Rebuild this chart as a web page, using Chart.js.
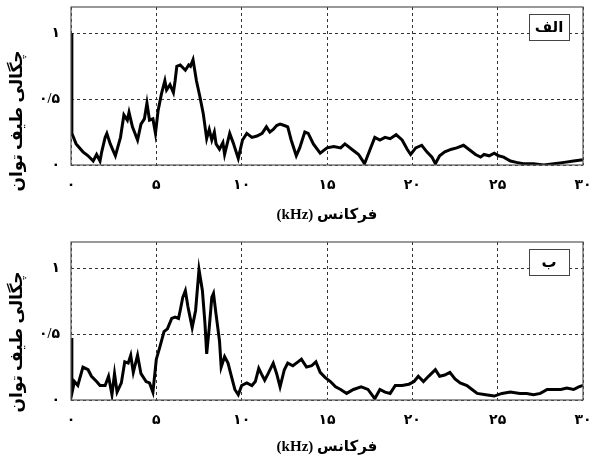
<!DOCTYPE html>
<html>
<head>
<meta charset="utf-8">
<script src="https://cdn.jsdelivr.net/npm/chart.js@4/dist/chart.umd.min.js"></script>
<style>
  body { margin: 0; background: #fff; }
  .box { position: relative; width: 590px; height: 232px; }
  canvas { direction: rtl; }
</style>
</head>
<body>
<div class="box"><canvas id="chartA"></canvas></div>
<div class="box"><canvas id="chartB"></canvas></div>
<script>
// فرکانس (kHz) و چگالی طیف توان - نمودار الف
const freqA = [0, 0.05, 0.3, 0.7, 1.0, 1.3, 1.5, 1.7, 1.8, 2.0, 2.1, 2.3, 2.6, 2.9, 3.1, 3.3, 3.4, 3.6, 3.9, 4.1, 4.3, 4.45, 4.6, 4.8, 4.95,
  5.1, 5.3, 5.5, 5.6, 5.8, 6.0, 6.1, 6.2, 6.4, 6.7, 6.9, 7.0, 7.15, 7.35, 7.55, 7.75, 7.95, 8.1, 8.25, 8.4, 8.5, 8.7, 8.9, 9.0,
  9.3, 9.5, 9.8, 10.05, 10.3, 10.6, 10.9, 11.2, 11.45, 11.65, 11.85, 12.05, 12.25, 12.5, 12.7, 12.9, 13.2, 13.4, 13.7, 13.9,
  14.2, 14.6, 15.0, 15.4, 15.8, 16.05, 16.45, 16.85, 17.2, 17.5, 17.8, 18.1, 18.4, 18.7, 19.05, 19.4, 19.7, 19.9, 20.2,
  20.55, 20.85, 21.15, 21.35, 21.6, 21.9, 22.3, 22.6, 23.0, 23.4, 23.7, 24.0, 24.2, 24.5, 24.8, 25.05, 25.35, 25.75, 26.1,
  26.5, 27.1, 27.7, 28.3, 28.9, 29.45, 30];
const powerA = [1.0, 0.24, 0.16, 0.10, 0.07, 0.03, 0.08, 0.03, 0.10, 0.21, 0.24, 0.16, 0.07, 0.21, 0.38, 0.34, 0.40, 0.29, 0.19, 0.31, 0.35, 0.47, 0.34, 0.35, 0.24,
  0.41, 0.54, 0.64, 0.57, 0.61, 0.55, 0.64, 0.75, 0.76, 0.72, 0.76, 0.75, 0.80, 0.64, 0.52, 0.39, 0.20, 0.27, 0.19, 0.25, 0.16, 0.12, 0.17, 0.08,
  0.24, 0.17, 0.05, 0.19, 0.24, 0.21, 0.22, 0.24, 0.29, 0.25, 0.27, 0.30, 0.31, 0.30, 0.29, 0.19, 0.07, 0.13, 0.25, 0.24,
  0.16, 0.09, 0.13, 0.14, 0.13, 0.16, 0.12, 0.08, 0.01, 0.11, 0.21, 0.19, 0.21, 0.20, 0.23, 0.19, 0.12, 0.08, 0.13,
  0.15, 0.10, 0.06, 0.01, 0.07, 0.10, 0.12, 0.13, 0.15, 0.11, 0.08, 0.06, 0.08, 0.07, 0.09, 0.07, 0.06, 0.03, 0.02,
  0.01, 0.01, 0.00, 0.01, 0.02, 0.03, 0.04];

// نمودار ب
const freqB = [0, 0.05, 0.2, 0.4, 0.7, 1.0, 1.2, 1.5, 1.7, 2.0, 2.2, 2.4, 2.55, 2.7, 2.95, 3.15, 3.35, 3.5, 3.65, 3.9, 4.1, 4.4, 4.6, 4.8,
  5.0, 5.2, 5.45, 5.65, 5.9, 6.1, 6.3, 6.4, 6.55, 6.7, 6.85, 7.1, 7.3, 7.5, 7.7, 7.85, 7.95, 8.1, 8.25, 8.35, 8.5, 8.7, 8.8,
  9.0, 9.2, 9.4, 9.6, 9.8, 10.0, 10.3, 10.6, 10.8, 11.0, 11.15, 11.35, 11.55, 11.85, 12.05, 12.25, 12.5, 12.7, 13.0, 13.3,
  13.5, 13.8, 14.1, 14.35, 14.6, 14.9, 15.2, 15.5, 15.8, 16.15, 16.55, 17.0, 17.4, 17.8, 18.1, 18.4, 18.7, 19.0, 19.4,
  19.8, 20.1, 20.35, 20.65, 20.95, 21.35, 21.6, 21.9, 22.2, 22.5, 22.8, 23.2, 23.5, 23.8, 24.3, 24.8, 25.25, 25.75, 26.3,
  26.7, 27.1, 27.5, 27.9, 28.3, 28.7, 29.05, 29.45, 29.75, 30];
const powerB = [0.47, 0.05, 0.14, 0.11, 0.25, 0.23, 0.18, 0.14, 0.11, 0.11, 0.18, 0.04, 0.20, 0.06, 0.13, 0.29, 0.28, 0.34, 0.21, 0.34, 0.20, 0.14, 0.13, 0.06,
  0.31, 0.40, 0.52, 0.54, 0.62, 0.63, 0.62, 0.68, 0.78, 0.83, 0.71, 0.55, 0.68, 0.99, 0.83, 0.58, 0.35, 0.55, 0.78, 0.81, 0.65, 0.45, 0.25,
  0.33, 0.28, 0.18, 0.08, 0.04, 0.11, 0.13, 0.11, 0.14, 0.24, 0.20, 0.15, 0.20, 0.28, 0.20, 0.10, 0.23, 0.28, 0.26, 0.29,
  0.31, 0.25, 0.26, 0.29, 0.21, 0.17, 0.14, 0.10, 0.08, 0.05, 0.08, 0.10, 0.08, 0.01, 0.08, 0.06, 0.05, 0.11, 0.11,
  0.12, 0.14, 0.18, 0.14, 0.18, 0.23, 0.18, 0.19, 0.21, 0.16, 0.13, 0.11, 0.08, 0.05, 0.04, 0.03, 0.05, 0.06, 0.05,
  0.05, 0.04, 0.05, 0.08, 0.08, 0.08, 0.09, 0.08, 0.10, 0.11];

const xTicks = [0, 5, 10, 15, 20, 25, 30];
const xTickLabels = ['۰', '۵', '۱۰', '۱۵', '۲۰', '۲۵', '۳۰'];
const yTicks = [0, 0.5, 1];
const yTickLabels = ['۰', '۰/۵', '۱'];
const xTitle = 'فرکانس (kHz)';
const yTitle = 'چگالی طیف توان';

const fontFam = "'Liberation Serif', 'DejaVu Sans', serif";

// کادر دور ناحیه رسم، عنوان محور عمودی و برچسب گوشه
const framePlugin = {
  id: 'frame',
  afterDatasetsDraw(chart) {
    const a = chart.chartArea;
    const ctx = chart.ctx;
    const opts = chart.options.plugins.frame;
    ctx.save();
    ctx.strokeStyle = '#555';
    ctx.lineWidth = 1.2;
    ctx.strokeRect(a.left, a.top, a.right - a.left, a.bottom - a.top);

    const bw = 40, bh = 26;
    const bx = a.right - 14 - bw, by = a.top + 7;
    ctx.fillStyle = '#fff';
    ctx.fillRect(bx, by, bw, bh);
    ctx.strokeStyle = '#444';
    ctx.lineWidth = 1;
    ctx.strokeRect(bx + 0.5, by + 0.5, bw, bh);
    ctx.fillStyle = '#000';
    ctx.font = "bold 15px " + fontFam;
    ctx.textAlign = 'center';
    ctx.textBaseline = 'middle';
    ctx.fillText(opts.tag, bx + bw / 2, by + bh / 2 + 1);

    // عنوان محور عمودی (در مرجع کمی پایین‌تر از مرکز محور است)
    ctx.translate(18, a.bottom - opts.titleUp);
    ctx.rotate(-Math.PI / 2);
    ctx.font = "bold 17px " + fontFam;
    ctx.fillText(yTitle, 0, 0);
    ctx.restore();
  }
};

function makeChart(id, freq, power, tag, padTop, axisH, titleUp) {
  const pts = freq.map((f, i) => ({ x: f, y: power[i] }));
  return new Chart(document.getElementById(id), {
    type: 'line',
    data: {
      datasets: [{
        data: pts,
        borderColor: '#000',
        borderWidth: 3,
        pointRadius: 0,
        tension: 0,
        fill: false
      }]
    },
    options: {
      responsive: true,
      maintainAspectRatio: false,
      animation: false,
      layout: { padding: { top: padTop, right: 7, left: 7, bottom: 0 } },
      plugins: {
        legend: { display: false },
        tooltip: { enabled: false },
        frame: { tag: tag, titleUp: titleUp }
      },
      scales: {
        x: {
          type: 'linear',
          min: 0,
          max: 30,
          afterBuildTicks: s => { s.ticks = xTicks.map(v => ({ value: v })); },
          afterFit: s => { s.height = axisH; s.paddingLeft = 0; s.paddingRight = 0; },
          ticks: {
            color: '#000',
            padding: 12,
            maxRotation: 0,
            font: { family: fontFam, size: 14, weight: 'bold' },
            callback: v => xTickLabels[xTicks.indexOf(v)]
          },
          grid: { color: '#333', lineWidth: 1, drawTicks: false, tickLength: 0 },
          border: { display: false, dash: [3, 3] },
          title: {
            display: true,
            text: xTitle,
            color: '#000',
            padding: { top: 4, bottom: 8 },
            font: { family: fontFam, size: 15, weight: 'bold' }
          }
        },
        y: {
          min: 0,
          max: 1.2,
          afterBuildTicks: s => { s.ticks = yTicks.map(v => ({ value: v })); },
          afterFit: s => { s.width = 64; s.paddingTop = 0; s.paddingBottom = 0; },
          ticks: {
            color: '#000',
            padding: 11,
            font: { family: fontFam, size: 14, weight: 'bold' },
            callback: v => yTickLabels[yTicks.indexOf(v)]
          },
          grid: { color: '#333', lineWidth: 1, drawTicks: false, tickLength: 0 },
          border: { display: false, dash: [3, 3] }
        }
      }
    },
    plugins: [framePlugin]
  });
}

makeChart('chartA', freqA, powerA, 'الف', 7, 67, 44);
makeChart('chartB', freqB, powerB, 'ب', 10, 64, 58);
</script>
</body>
</html>
